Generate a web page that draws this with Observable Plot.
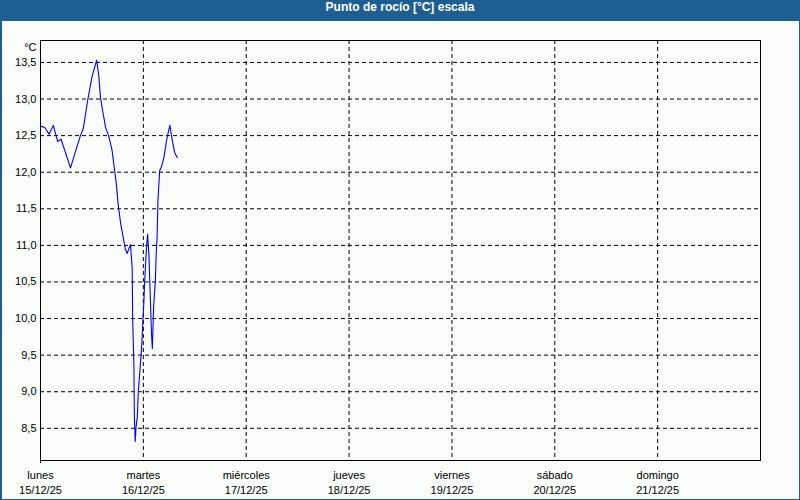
<!DOCTYPE html>
<html>
<head>
<meta charset="utf-8">
<script src="https://cdn.jsdelivr.net/npm/d3@7"></script>
<script src="https://cdn.jsdelivr.net/npm/@observablehq/plot@0.6"></script>
<style>
  html, body { margin: 0; padding: 0; background: #f9fcf9; }
  #wrap { position: relative; width: 800px; height: 500px; background: #f9fcf9; overflow: hidden; }
  #title { height: 21px; line-height: 21px; background: #1d5e93; color: #fff; text-align: center;
           font: bold 12px "Liberation Sans", Arial, sans-serif; }
  #border { position: absolute; left: 0; top: 0; width: 800px; height: 500px; box-sizing: border-box;
            border: 1px solid #1d5e93; border-left-width: 2px; pointer-events: none; }
  #chart svg { display: block; }
</style>
</head>
<body>
<div id="wrap">
  <div id="title">Punto de rocío [°C] escala</div>
  <div id="chart"></div>
  <div id="border"></div>
</div>
<script>
// Hours since lunes 15/12/25 00:00
const hours = [0.0, 1.0, 2.0, 3.0, 4.0, 4.8, 7.0, 9.2, 10.0, 11.0, 12.0, 13.1, 13.6, 14.0, 14.5, 15.2, 15.9, 16.7, 17.3, 17.7, 18.1, 18.7, 19.2, 19.8, 20.2, 21.0, 21.4, 21.5, 21.8, 21.9, 22.1, 22.3, 22.6, 22.8, 23.2, 23.6, 23.9, 24.1, 24.3, 24.6, 24.8, 25.0, 25.3, 25.7, 25.9, 26.1, 26.2, 26.4, 26.8, 27.0, 27.2, 27.4, 27.8, 28.2, 28.8, 29.4, 29.9, 30.2, 30.5, 30.9, 31.3, 31.9];
const dewpoint = [12.63, 12.61, 12.52, 12.64, 12.42, 12.45, 12.06, 12.48, 12.60, 12.98, 13.30, 13.53, 13.32, 13.02, 12.84, 12.61, 12.50, 12.30, 12.02, 11.84, 11.57, 11.30, 11.14, 10.95, 10.89, 11.01, 10.68, 10.02, 9.34, 8.66, 8.32, 8.52, 8.66, 8.98, 9.29, 9.61, 9.98, 10.20, 10.50, 10.84, 11.02, 11.15, 10.86, 10.16, 9.79, 9.59, 9.79, 10.16, 10.52, 10.89, 11.10, 11.61, 12.02, 12.07, 12.20, 12.43, 12.57, 12.64, 12.52, 12.39, 12.27, 12.20];

const dayDates = ["2025-12-15", "2025-12-16", "2025-12-17", "2025-12-18", "2025-12-19", "2025-12-20", "2025-12-21"];
const dayNames = ["lunes", "martes", "miércoles", "jueves", "viernes", "sábado", "domingo"];
const dateLabels = ["15/12/25", "16/12/25", "17/12/25", "18/12/25", "19/12/25", "20/12/25", "21/12/25"];
const xEnd = "2025-12-22";
const yTicks = [8.5, 9.0, 9.5, 10.0, 10.5, 11.0, 11.5, 12.0, 12.5, 13.0, 13.5];
const yDomain = [8.06, 13.8];
const unitLabel = "°C";

const t0 = Date.parse(dayDates[0] + "T00:00:00Z");
const data = hours.map((h, i) => ({ time: new Date(t0 + h * 3600e3), value: dewpoint[i] }));
const dayTicks = dayDates.map(s => new Date(s + "T00:00:00Z"));
const labelMap = new Map(dayTicks.map((d, i) => [+d, dayNames[i] + "\n" + dateLabels[i]]));
const dash = "4,3";

const chart = Plot.plot({
  width: 800,
  height: 479,
  marginTop: 19,
  marginLeft: 40,
  marginRight: 40,
  marginBottom: 40,
  style: { fontFamily: "'Liberation Sans', Arial, sans-serif", fontSize: "11px", background: "transparent", color: "#000", overflow: "visible" },
  x: { type: "utc", domain: [dayTicks[0], new Date(xEnd + "T00:00:00Z")] },
  y: { domain: yDomain },
  marks: [
    Plot.gridY(yTicks, { stroke: "#000", strokeOpacity: 1, strokeDasharray: dash }),
    Plot.gridX(dayTicks.slice(1), { stroke: "#000", strokeOpacity: 1, strokeDasharray: dash }),
    Plot.frame({ stroke: "#000" }),
    Plot.axisY(yTicks, { tickSize: 0, tickPadding: 4, tickFormat: d => d.toFixed(1).replace(".", ","), label: null }),
    Plot.axisX(dayTicks, { tickSize: 0, tickPadding: 8, tickFormat: d => labelMap.get(+d), label: null, lineHeight: 1.36 }),
    Plot.axisX([dayTicks[0]], { tickSize: 3, tickFormat: () => "", label: null }),
    Plot.text([unitLabel], { frameAnchor: "top-left", dx: -4, dy: 3, textAnchor: "end", text: d => d }),
    Plot.line(data, { x: "time", y: "value", stroke: "#0000ff", strokeWidth: 1.1 })
  ]
});
document.getElementById("chart").appendChild(chart);
</script>
</body>
</html>
